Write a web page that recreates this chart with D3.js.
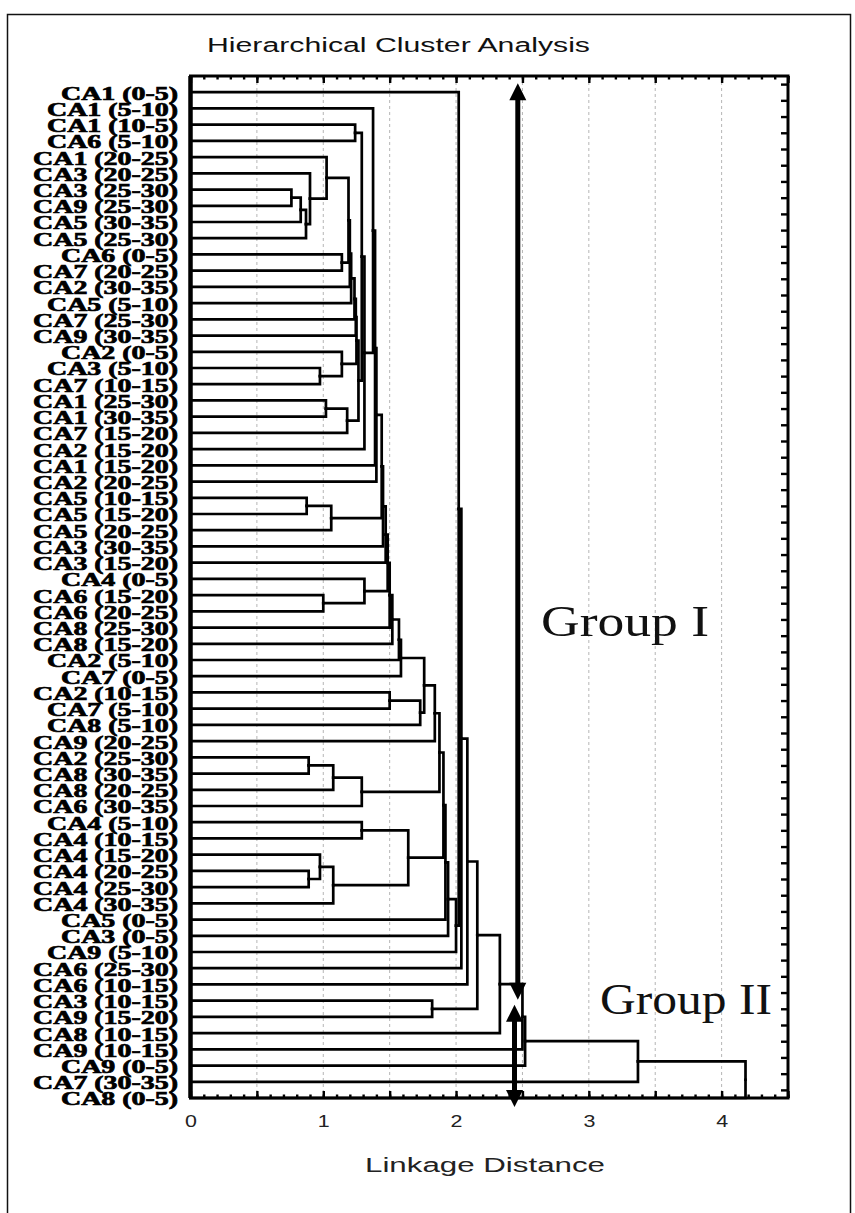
<!DOCTYPE html>
<html>
<head>
<meta charset="utf-8">
<script src="https://cdn.jsdelivr.net/npm/d3@7"></script>
<style>
  html, body { margin: 0; padding: 0; background: #fff; }
  svg { display: block; }
</style>
</head>
<body>
<svg id="chart" width="855" height="1213"></svg>
<script>
// Leaves, in the order they appear from top to bottom
const leafLabels = [
  "CA1 (0-5)", "CA1 (5-10)", "CA1 (10-5)", "CA6 (5-10)", "CA1 (20-25)", "CA3 (20-25)",
  "CA3 (25-30)", "CA9 (25-30)", "CA5 (30-35)", "CA5 (25-30)", "CA6 (0-5)", "CA7 (20-25)",
  "CA2 (30-35)", "CA5 (5-10)", "CA7 (25-30)", "CA9 (30-35)", "CA2 (0-5)", "CA3 (5-10)",
  "CA7 (10-15)", "CA1 (25-30)", "CA1 (30-35)", "CA7 (15-20)", "CA2 (15-20)", "CA1 (15-20)",
  "CA2 (20-25)", "CA5 (10-15)", "CA5 (15-20)", "CA5 (20-25)", "CA3 (30-35)", "CA3 (15-20)",
  "CA4 (0-5)", "CA6 (15-20)", "CA6 (20-25)", "CA8 (25-30)", "CA8 (15-20)", "CA2 (5-10)",
  "CA7 (0-5)", "CA2 (10-15)", "CA7 (5-10)", "CA8 (5-10)", "CA9 (20-25)", "CA2 (25-30)",
  "CA8 (30-35)", "CA8 (20-25)", "CA6 (30-35)", "CA4 (5-10)", "CA4 (10-15)", "CA4 (15-20)",
  "CA4 (20-25)", "CA4 (25-30)", "CA4 (30-35)", "CA5 (0-5)", "CA3 (0-5)", "CA9 (5-10)",
  "CA6 (25-30)", "CA6 (10-15)", "CA3 (10-15)", "CA9 (15-20)", "CA8 (10-15)", "CA9 (10-15)",
  "CA9 (0-5)", "CA7 (30-35)", "CA8 (0-5)"
];

// Agglomeration steps: [step id, first member, second member, linkage distance]
// numbers point into leafLabels, strings to an earlier step
const mergeIds   = ["P1","Q1","Q2","Q3","Q4","Q5","R1","S1","S2","T1","T2","U1","U2","U3","U4","U5","U6","U6b","U7","U8","U9","U10","U11",
                    "X1","X2","Y1","Y2","Z1","Z2","Y3","Y4","Y5","Y6","Y7","Y8","AA1","AA2","BB1","BB2",
                    "CC1","CC2","CC3","DD1","EE1","EE2","EE3","DD2","GG1a","GG1b","GG2","GG3","GG4","GG5","GG6","GG7",
                    "HH1","GG8","II","JJ1","JJ2","KK","LL"];
const mergeFirst = [2, 6, "Q1", "Q2", 5, 4, 10, 17, 16, 19, "T1", "Q5", "U1", "U2", "U3", "U4", "U5", "U6", "P1", "U7", 1, "U9", "U10",
                    25, "X1", "U11", "Y1", 31, 30, "Y2", "Y3", "Y4", "Y5", "Y6", "Y7", 37, "AA1", "Y8", "BB1",
                    41, "CC1", "CC2", 45, 48, 47, "EE2", "DD1", "BB2", "GG1a", "GG1b", "GG2", "GG3", 0, "GG5", "GG6",
                    56, "GG7", "GG8", "II", "JJ1", "JJ2", "KK"];
const mergeSecond = [3, 7, 8, 9, "Q3", "Q4", 11, 18, "S1", 20, 21, "R1", 12, 13, 14, 15, "S2", "T2", "U6b", 22, "U8", 23, 24,
                    26, 27, "X2", 28, 32, "Z1", 29, "Z2", 33, 34, 35, 36, 38, 39, "AA2", 40,
                    42, 43, 44, 46, 49, "EE1", 50, "EE3", "CC3", "DD2", 51, 52, 53, "GG4", 54, 55,
                    57, "HH1", 58, 59, 60, 61, 62];
const mergeDistance = [1.24, 0.76, 0.83, 0.87, 0.90, 1.025, 1.14, 0.975, 1.14, 1.02, 1.18, 1.19, 1.20, 1.21, 1.235, 1.245, 1.25, 1.265, 1.29, 1.31, 1.375, 1.39, 1.40,
                    0.875, 1.06, 1.44, 1.45, 1.00, 1.31, 1.47, 1.485, 1.50, 1.52, 1.57, 1.585, 1.50, 1.73, 1.76, 1.84,
                    0.89, 1.075, 1.29, 1.29, 0.89, 0.975, 1.075, 1.64, 1.875, 1.905, 1.92, 1.94, 2.00, 2.02, 2.04, 2.085,
                    1.82, 2.16, 2.33, 2.50, 2.52, 3.37, 4.18];

// Axis
const distanceTicks = [0, 1, 2, 3, 4];
const distanceMax = 4.5;

// Group annotations: name, distance of the arrow, first and last leaf slot it spans
const groupNames = ["Group I", "Group II"];
const groupArrowDistance = [2.465, 2.44];
const groupFrom = [-0.05, 56.75];
const groupTo = [56.45, 63.05];

// ---------- layout ----------
const svg = d3.select("#chart");
const plot = { left: 190.5, right: 788, top: 76, bottom: 1098 };

const x = d3.scaleLinear().domain([0, distanceMax]).range([plot.left, plot.right]);
const y = d3.scaleLinear().domain([-0.5, leafLabels.length - 0.5]).range([plot.top, plot.bottom]);

// outer frame
svg.append("rect")
  .attr("x", 7.5).attr("y", 14.5).attr("width", 843).attr("height", 1300)
  .attr("fill", "none").attr("stroke", "#111").attr("stroke-width", 1.5);

// title
svg.append("text")
  .attr("x", 207).attr("y", 52)
  .attr("font-family", "'Liberation Sans', Arial, sans-serif")
  .attr("font-size", 19.5)
  .attr("textLength", 383).attr("lengthAdjust", "spacingAndGlyphs")
  .attr("fill", "#111")
  .text("Hierarchical Cluster Analysis");

// ---------- tree ----------
const nodes = new Map();
leafLabels.forEach((name, i) => nodes.set(i, { name, dist: 0 }));
mergeIds.forEach((id, k) => {
  nodes.set(id, {
    name: id,
    dist: mergeDistance[k],
    children: [nodes.get(mergeFirst[k]), nodes.get(mergeSecond[k])]
  });
});
const rootData = nodes.get(mergeIds[mergeIds.length - 1]);
const root = d3.hierarchy(rootData, d => d.children);
d3.cluster().separation(() => 1).size([leafLabels.length, 1])(root);

// vertical grid (dotted)
const gridValues = d3.range(0.5, distanceMax, 0.5);
svg.append("g").selectAll("line").data(gridValues).join("line")
  .attr("x1", d => x(d)).attr("x2", d => x(d))
  .attr("y1", plot.top).attr("y2", plot.bottom)
  .attr("stroke", "#b5b5b5").attr("stroke-width", 1)
  .attr("stroke-dasharray", "3,3");

// elbow links: horizontal from a node's distance to its parent's, then vertical to the parent
svg.append("g")
  .attr("fill", "none").attr("stroke", "#000").attr("stroke-width", 2.7)
  .attr("stroke-linejoin", "miter").attr("stroke-linecap", "square")
  .selectAll("path").data(root.links()).join("path")
  .attr("d", l => `M${x(l.target.data.dist)},${y(l.target.x)}H${x(l.source.data.dist)}V${y(l.source.x)}`);

// ---------- axes ----------
function minorMajor(axisFn, offset, values, size) {
  const g = svg.append("g").attr("transform", offset)
    .call(axisFn(x).tickValues(values).tickSize(size).tickFormat(""));
  g.select(".domain").remove();
  return g;
}
const minorVals = d3.range(0, distanceMax + 0.001, 0.1);
const majorVals = d3.range(0, distanceMax + 0.001, 0.5);
minorMajor(d3.axisBottom, `translate(0,${plot.bottom})`, minorVals, -3.5);
minorMajor(d3.axisBottom, `translate(0,${plot.bottom})`, majorVals, -7);
minorMajor(d3.axisTop, `translate(0,${plot.top})`, minorVals, -3.5);
minorMajor(d3.axisTop, `translate(0,${plot.top})`, majorVals, -7);

const labelsAxis = svg.append("g").attr("transform", `translate(0,${plot.bottom})`)
  .call(d3.axisBottom(x).tickValues(distanceTicks).tickSize(0).tickPadding(17).tickFormat(d3.format("d")));
labelsAxis.select(".domain").remove();
labelsAxis.selectAll("text")
  .attr("font-family", "'Liberation Sans', Arial, sans-serif")
  .attr("font-size", 16.5).attr("fill", "#222")
  .attr("transform", "scale(1.3,1)");

const rightAxis = svg.append("g").attr("transform", `translate(${plot.right},0)`)
  .call(d3.axisRight(y).tickValues(d3.range(0, leafLabels.length)).tickSize(-7).tickFormat(""));
rightAxis.select(".domain").remove();

svg.selectAll(".tick line").attr("stroke", "#000").attr("stroke-width", 2.4);

// plot border
svg.append("rect")
  .attr("x", plot.left).attr("y", plot.top)
  .attr("width", plot.right - plot.left).attr("height", plot.bottom - plot.top)
  .attr("fill", "none").attr("stroke", "#000").attr("stroke-width", 3);
svg.append("line")
  .attr("x1", plot.left).attr("x2", plot.left).attr("y1", plot.top).attr("y2", plot.bottom)
  .attr("stroke", "#000").attr("stroke-width", 4.5);

// axis title
svg.append("text")
  .attr("x", 365).attr("y", 1172)
  .attr("font-family", "'Liberation Sans', Arial, sans-serif")
  .attr("font-size", 20)
  .attr("textLength", 240).attr("lengthAdjust", "spacingAndGlyphs")
  .attr("fill", "#222")
  .text("Linkage Distance");

// ---------- leaf labels ----------
const leafNodes = root.leaves();
const labelG = svg.append("g")
  .attr("font-family", "'Liberation Serif', 'Times New Roman', serif")
  .attr("font-weight", "bold").attr("font-size", 18.5)
  .attr("fill", "#000").attr("stroke", "#000").attr("stroke-width", 0.7)
  .attr("text-anchor", "end");
const labelTexts = labelG.selectAll("text").data(leafNodes).join("text")
  .attr("dy", "0.35em")
  .text(d => d.data.name);
// widen glyphs so the longest label fills the margin
let widest = 0;
labelTexts.each(function () { widest = Math.max(widest, this.getComputedTextLength()); });
const stretch = 145 / widest;
labelTexts.attr("transform", d => `translate(178,${y(d.x) + 1}) scale(${stretch},1)`);

// ---------- group arrows ----------
function arrowHead(g, cx, tipY, dir) {
  const len = 17, half = 8.5;
  g.append("path")
    .attr("d", `M${cx},${tipY}L${cx - half},${tipY + dir * len}L${cx + half},${tipY + dir * len}Z`)
    .attr("fill", "#000");
}
const arrows = svg.append("g");
groupNames.forEach((name, i) => {
  const cx = x(groupArrowDistance[i]);
  const y0 = y(groupFrom[i]), y1 = y(groupTo[i]);
  arrows.append("line")
    .attr("x1", cx).attr("x2", cx).attr("y1", y0 + 8).attr("y2", y1 - 8)
    .attr("stroke", "#000").attr("stroke-width", 5);
  arrowHead(arrows, cx, y0, 1);
  arrowHead(arrows, cx, y1, -1);
});

// group names
const groupText = svg.append("g")
  .attr("font-family", "'Liberation Serif', 'Times New Roman', serif")
  .attr("font-size", 44).attr("fill", "#111");
groupText.append("text").attr("x", 541).attr("y", 636)
  .attr("textLength", 168).attr("lengthAdjust", "spacingAndGlyphs").text(groupNames[0]);
groupText.append("text").attr("x", 600).attr("y", 1014)
  .attr("textLength", 172).attr("lengthAdjust", "spacingAndGlyphs").text(groupNames[1]);
</script>
</body>
</html>
